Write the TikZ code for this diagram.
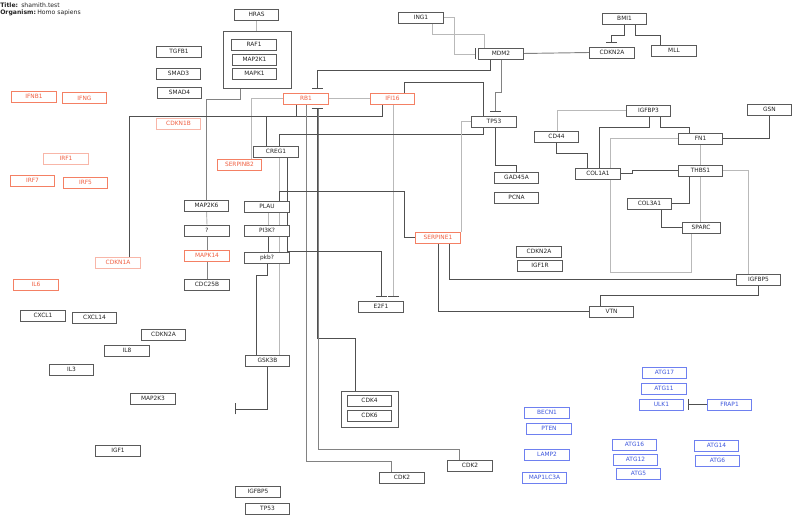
\documentclass[tikz,border=0pt]{standalone}
\usepackage{fontspec}
\setmainfont{DejaVu Sans}
\usetikzlibrary{arrows.meta}
\pgfdeclarelayer{bg}
\pgfsetlayers{bg,main}
\definecolor{bxc}{RGB}{90,90,90}
\definecolor{txc}{RGB}{35,35,35}
\definecolor{redc}{RGB}{244,128,100}
\definecolor{lredc}{RGB}{248,182,168}
\definecolor{redt}{RGB}{240,95,65}
\definecolor{bluec}{RGB}{110,128,240}
\definecolor{bluet}{RGB}{60,85,220}
\definecolor{dkl}{RGB}{80,80,80}
\definecolor{mdl}{RGB}{130,130,130}
\definecolor{ltl}{RGB}{185,185,185}
\begin{document}
\begin{tikzpicture}[x=0.75pt,y=-0.75pt,
  box/.style={draw=bxc, fill=white, line width=0.6pt, minimum width=33.4pt, minimum height=8.25pt, inner sep=0pt, font=\fontsize{4.4}{5}\selectfont, text=txc},
  rbox/.style={box, draw=redc, text=redt},
  lrbox/.style={box, draw=lredc, text=redt},
  bbox/.style={box, draw=bluec, text=bluet},
  grp/.style={draw=bxc, line width=0.6pt, inner sep=0pt},
  dl/.style={draw=dkl, line width=0.7pt},
  ml/.style={draw=mdl, line width=0.7pt},
  ll/.style={draw=ltl, line width=0.7pt},
  tbar/.style={-{Bar[width=8.25pt,line width=0.9pt,color=dkl]}},
  ttl/.style={anchor=west, inner sep=0pt, font=\fontsize{4.6}{5}\selectfont, text=txc}
]
\useasboundingbox (0,0) rectangle (800,523);
% title
\node[ttl] (t1) at (0,5) {\textbf{Title:}};
\node[ttl] (t1v) at (21,5) {shamith.test};
\node[ttl] (t2) at (0,13) {\textbf{Organism:}};
\node[ttl] (t2v) at (37,13) {Homo sapiens};
% nodes left/center
\node[box] (HRAS) at (256.5,14.5) {HRAS};
\node[grp, minimum width=51pt, minimum height=42.75pt] (grpA) at (257,59.5) {};
\node[box] (RAF1) at (254,44.5) {RAF1};
\node[box] (MAP2K1) at (254.5,59.5) {MAP2K1};
\node[box] (MAPK1) at (254.5,73.5) {MAPK1};
\node[box] (TGFB1) at (179,51.5) {TGFB1};
\node[box] (SMAD3) at (178.5,73.5) {SMAD3};
\node[box] (SMAD4) at (179.5,92.5) {SMAD4};
\node[rbox] (IFNB1) at (34,96.5) {IFNB1};
\node[rbox] (IFNG) at (84.5,98) {IFNG};
\node[lrbox] (CDKN1B) at (178.5,123.5) {CDKN1B};
\node[lrbox] (IRF1) at (66,158.5) {IRF1};
\node[rbox] (SERPINB2) at (239.5,164.5) {SERPINB2};
\node[rbox] (IRF7) at (32.5,180.5) {IRF7};
\node[rbox] (IRF5) at (85.5,182.5) {IRF5};
\node[box] (MAP2K6) at (206.5,205.5) {MAP2K6};
\node[box] (UNK) at (207,230.5) {?};
\node[rbox] (MAPK14) at (207,255.5) {MAPK14};
\node[box] (CDC25B) at (207,284.5) {CDC25B};
\node[lrbox] (CDKN1A) at (118,262.5) {CDKN1A};
\node[rbox] (IL6) at (36,284.5) {IL6};
\node[box] (CXCL1) at (43,315.5) {CXCL1};
\node[box] (CXCL14) at (94.5,317.5) {CXCL14};
\node[box] (CDKN2Ac) at (163.5,334.5) {CDKN2A};
\node[box] (IL8) at (127,350.5) {IL8};
\node[box] (IL3) at (71.5,369.5) {IL3};
\node[box] (MAP2K3) at (153,398.5) {MAP2K3};
\node[box] (IGF1) at (118,450.5) {IGF1};
\node[box] (IGFBP5a) at (258,491.5) {IGFBP5};
\node[box] (TP53a) at (267.5,508.5) {TP53};
\node[box] (GSK3B) at (267.5,360.5) {GSK3B};
\node[grp, minimum width=42.75pt, minimum height=27pt] (grpB) at (369.5,409) {};
\node[box] (CDK4) at (369.5,400.5) {CDK4};
\node[box] (CDK6) at (369.5,415.5) {CDK6};
\node[box] (CDK2a) at (402,477.5) {CDK2};
\node[box] (CDK2b) at (470,465.5) {CDK2};
\node[rbox] (RB1) at (306,98.5) {RB1};
\node[rbox] (IFI16) at (392.5,98.5) {IFI16};
\node[box] (CREG1) at (276,151.5) {CREG1};
\node[box] (PLAU) at (267,206.5) {PLAU};
\node[box] (PI3K) at (267,230.5) {PI3K?};
\node[box] (pkb) at (267,257.5) {pkb?};
\node[box] (E2F1) at (381,306.5) {E2F1};
\node[rbox] (SERPINE1) at (438,237.5) {SERPINE1};
% right part
\node[box] (ING1) at (421,17.5) {ING1};
\node[box] (BMI1) at (624.5,18.5) {BMI1};
\node[box] (MDM2) at (501,53.5) {MDM2};
\node[box] (CDKN2Aa) at (612,52.5) {CDKN2A};
\node[box] (MLL) at (674,50.5) {MLL};
\node[box] (TP53) at (494,121.5) {TP53};
\node[box] (CD44) at (556.5,136.5) {CD44};
\node[box] (GAD45A) at (516.5,177.5) {GAD45A};
\node[box] (PCNA) at (516.5,197.5) {PCNA};
\node[box] (COL1A1) at (598,173.5) {COL1A1};
\node[box] (IGFBP3) at (648.5,110.5) {IGFBP3};
\node[box] (GSN) at (769.5,109.5) {GSN};
\node[box] (FN1) at (700.5,138.5) {FN1};
\node[box] (THBS1) at (700.5,170.5) {THBS1};
\node[box] (COL3A1) at (649.5,203.5) {COL3A1};
\node[box, minimum width=28.5pt] (SPARC) at (701,227.5) {SPARC};
\node[box] (CDKN2Ab) at (539,251.5) {CDKN2A};
\node[box] (IGF1R) at (540,265.5) {IGF1R};
\node[box] (IGFBP5b) at (758.5,279.5) {IGFBP5};
\node[box] (VTN) at (611.5,311.5) {VTN};
% blue
\node[bbox] (ATG17) at (664.5,372.5) {ATG17};
\node[bbox] (ATG11) at (664,388.5) {ATG11};
\node[bbox] (ULK1) at (661.5,404.5) {ULK1};
\node[bbox] (FRAP1) at (729.5,404.5) {FRAP1};
\node[bbox] (BECN1) at (547,412.5) {BECN1};
\node[bbox] (PTEN) at (549,428.5) {PTEN};
\node[bbox] (LAMP2) at (547,454.5) {LAMP2};
\node[bbox] (MAP1LC3A) at (544.5,477.5) {MAP1LC3A};
\node[bbox] (ATG16) at (634.5,444.5) {ATG16};
\node[bbox] (ATG12) at (635.5,459.5) {ATG12};
\node[bbox] (ATG5) at (638.5,473.5) {ATG5};
\node[bbox] (ATG14) at (716.5,445.5) {ATG14};
\node[bbox] (ATG6) at (717.5,460.5) {ATG6};
% free ends
\coordinate (rbT) at (317,89);
\coordinate (rbB) at (317,108);
\coordinate (e2fT1) at (381,297);
\coordinate (e2fT2) at (393,297);
\coordinate (mdT) at (476,54);
\coordinate (tpT) at (495,112);
\coordinate (ckT) at (611,43);
\coordinate (gskT) at (235,409);
\coordinate (ulkT) at (688,404.5);
\begin{pgfonlayer}{bg}
\draw[ll] (HRAS.south) -- (HRAS.south |- grpA.north);
\draw[ml] (grpA.south -| 240,0) -- (240,99) -| (MAP2K6.north);
\draw[ll] (RB1.west) -| (SERPINB2.north -| 251,0);
\draw[dl] (RB1.south -| 296,0) -- (296,116) -| (CREG1.north -| 266,0);
\draw[dl] (IFI16.south -| 382,0) -- (382,116) -| (CDKN1A.north -| 129,0);
\draw[ll] (RB1.east) -- (IFI16.west);
\draw[dl,tbar] (MDM2.south -| 490,0) -- (490,70) -- (317,70) -- (rbT);
\draw[dl,tbar] (grpB.north -| 355,0) -- (355,338) -- (317,338) -- (rbB);
\draw[ml] (CDK2b.north -| 459,0) -- (459,449) -- (318,449) -- (318,109);
\draw[ml] (RB1.south -| 306,0) -- (306,461) -| (CDK2a.north -| 391,0);
\draw[ll,tbar] (IFI16.south -| 393,0) -- (e2fT2);
\draw[dl,tbar] (CREG1.south -| 287,0) -- (287,251) -| (e2fT1);
\draw[dl] (TP53.south -| 483,0) -- (483,134) -| (CREG1.north -| 279,0);
\draw[ll] (CREG1.south -| 279,0) -- (GSK3B.north -| 279,0);
\draw[dl] (SERPINE1.west) -- (404,237.5) -- (404,191) -| (PLAU.north -| 279,0);
\draw[ll] (ING1.south -| 432,0) -- (432,34) -| (MDM2.north -| 484,0);
\draw[dl] (IFI16.north -| 404,0) -- (404,82) -| (TP53.north -| 483,0);
\draw[ll,tbar] (ING1.east) -- (454,17.5) -- (454,54) -- (mdT);
\draw[ml,tbar] (MDM2.south -| 501,0) -- (501,92) -- (495,92) -- (tpT);
\draw[ml] (MDM2.east) -- (CDKN2Aa.west);
\draw[dl,tbar] (BMI1.south -| 624,0) -- (624,35) -- (611,35) -- (ckT);
\draw[dl] (BMI1.south -| 635,0) -- (635,35) -| (MLL.north -| 660,0);
\draw[dl] (TP53.south -| 495,0) -- (495,165) -| (GAD45A.north);
\draw[ll] (TP53.west) -| (SERPINE1.north -| 461,0);
\draw[dl] (SERPINE1.south -| 449,0) |- (IGFBP5b.west);
\draw[dl] (SERPINE1.south -| 438,0) |- (VTN.west);
\draw[dl] (IGFBP5b.south) -- ++(0,10) -| (VTN.north -| 600,0);
\draw[ll] (THBS1.east) -| (IGFBP5b.north -| 748,0);
\draw[ll] (IGFBP3.west) -| (CD44.north -| 557,0);
\draw[dl] (IGFBP3.south -| 649,0) -- (649,127) -| (COL1A1.north -| 599,0);
\draw[dl] (IGFBP3.south -| 660,0) -- (660,127) -| (FN1.north -| 689,0);
\draw[ll] (FN1.west) -| (COL1A1.north -| 610,0);
\draw[ll] (SPARC.south -| 691,0) -- (691,272) -| (COL1A1.south -| 610,0);
\draw[dl] (CD44.south) -- (556.5,153) -| (COL1A1.north -| 587,0);
\draw[dl] (COL1A1.east) -- (632,173.5) -- (632,170.5) -- (THBS1.west);
\draw[dl] (GSN.south) |- (FN1.east);
\draw[ll] (FN1.south) -- (THBS1.north);
\draw[ll] (THBS1.south) -- (THBS1.south |- SPARC.north);
\draw[dl] (THBS1.south -| 689,0) |- (COL3A1.east);
\draw[dl] (COL3A1.south -| 661,0) |- (SPARC.west);
\draw[ll] (MAP2K6.south) -- (UNK.north);
\draw[ml] (UNK.south) -- (MAPK14.north);
\draw[ml] (MAPK14.south) -- (CDC25B.north);
\draw[ll] (PLAU.south -| 268,0) -- (PI3K.north -| 268,0);
\draw[dl] (PI3K.south -| 268,0) -- (pkb.north -| 268,0);
\draw[dl] (pkb.south) -- ++(0,12) -| (GSK3B.north -| 256,0);
\draw[dl,tbar] (GSK3B.south) |- (gskT);
\draw[dl,tbar] (FRAP1.west) -- (ulkT);
\end{pgfonlayer}
\end{tikzpicture}
\end{document}
